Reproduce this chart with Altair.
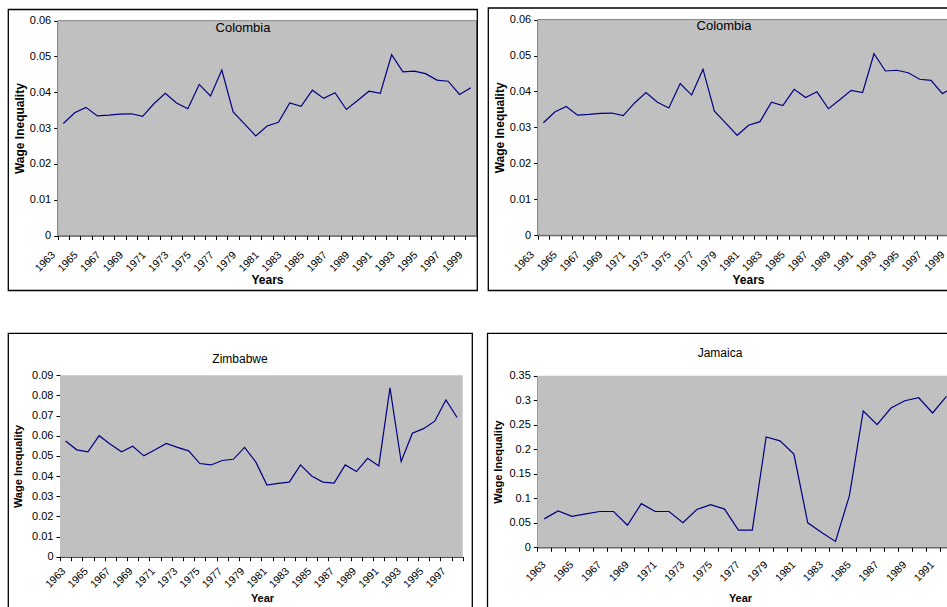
import altair as alt
import pandas as pd

# ---------------- data ----------------
colombia_years = list(range(1963, 2000))
colombia = [0.0313, 0.0343, 0.0358, 0.0334, 0.0336, 0.0339, 0.0340, 0.0333, 0.0368, 0.0397,
            0.0370, 0.0354, 0.0422, 0.0390, 0.0462, 0.0345, 0.0312, 0.0278, 0.0306, 0.0316,
            0.0370, 0.0361, 0.0406, 0.0383, 0.0399, 0.0352, 0.0377, 0.0403, 0.0397, 0.0505,
            0.0457, 0.0459, 0.0452, 0.0434, 0.0431, 0.0394, 0.0413]

zimbabwe_years = list(range(1963, 1999))
zimbabwe = [0.0574, 0.0530, 0.0520, 0.0600, 0.0558, 0.0520, 0.0548, 0.0500, 0.0530, 0.0562,
            0.0542, 0.0525, 0.0462, 0.0455, 0.0477, 0.0483, 0.0542, 0.0470, 0.0355, 0.0364,
            0.0370, 0.0455, 0.0400, 0.0370, 0.0365, 0.0455, 0.0422, 0.0488, 0.0450, 0.0837,
            0.0472, 0.0612, 0.0635, 0.0672, 0.0777, 0.0690]

jamaica_years = list(range(1963, 1993))
jamaica = [0.058, 0.074, 0.063, 0.068, 0.073, 0.073, 0.045, 0.089, 0.073, 0.073,
           0.050, 0.077, 0.087, 0.078, 0.035, 0.035, 0.225, 0.217, 0.190, 0.050,
           0.030, 0.012, 0.105, 0.278, 0.250, 0.284, 0.299, 0.305, 0.274, 0.308]

colombia_ticks = [0, 0.01, 0.02, 0.03, 0.04, 0.05, 0.06]
zimbabwe_ticks = [0, 0.01, 0.02, 0.03, 0.04, 0.05, 0.06, 0.07, 0.08, 0.09]
jamaica_ticks = [0, 0.05, 0.1, 0.15, 0.2, 0.25, 0.3, 0.35]

titles = ["Colombia", "Colombia", "Zimbabwe", "Jamaica"]
y_title = "Wage Inequality"

FONT = "Liberation Sans"
W, H = 947, 607
LINE = "#000080"
PLOT_BG = "#C0C0C0"


def panel(years, values, dom, xr, ymax, yr, yticks, xtitle, xt_pos, yt_x,
          lab_off, lab_pad, fs_title, plot_stroke):
    df = pd.DataFrame({"year": years, "value": values})
    n = int(dom[1] - dom[0])
    bounds = [dom[0] + k for k in range(n + 1)]
    last = years[-1]
    xscale = alt.Scale(domain=list(dom), range=list(xr), nice=False, zero=False)
    yscale = alt.Scale(domain=[0, ymax], range=list(yr), nice=False, zero=True)
    xaxis = alt.Axis(
        orient="bottom", offset=yr[0] - H, values=bounds,
        labelExpr=f"((datum.value + 0.5) % 2 == 1 && datum.value + 0.5 <= {last}) ? format(datum.value + 0.5, 'd') : ''",
        labelAngle=315, labelAlign="right", labelBaseline="top",
        labelOffset=lab_off, labelPadding=lab_pad, labelOverlap=False, labelFlush=False,
        labelFont=FONT, labelFontSize=10.5, labelColor="black",
        tickSize=4, tickColor="black", domainColor="black", grid=False,
        title=xtitle, titleFont=FONT, titleFontSize=fs_title, titleFontWeight="bold",
        titleColor="black", titleX=xt_pos[0], titleY=xt_pos[1] - yr[0],
        titleAlign="center", titleBaseline="middle")
    yaxis = alt.Axis(
        orient="left", offset=-xr[0], values=yticks, format=".2~f",
        labelFont=FONT, labelFontSize=11, labelColor="black", labelPadding=3,
        labelOverlap=False, labelFlush=False,
        tickSize=4, tickColor="black", domainColor="black", grid=False,
        title=y_title, titleFont=FONT, titleFontSize=fs_title, titleFontWeight="bold",
        titleColor="black", titleAngle=270, titleX=yt_x - xr[0],
        titleY=(yr[0] + yr[1]) / 2, titleAlign="center", titleBaseline="middle")
    bg = alt.Chart(pd.DataFrame({"a": [0]})).mark_rect(
        fill=PLOT_BG, stroke=plot_stroke, strokeWidth=1 if plot_stroke != PLOT_BG else 0
    ).encode(
        x=alt.X(datum=dom[0], type="quantitative", scale=xscale, axis=xaxis),
        x2=alt.X2(datum=dom[1]),
        y=alt.Y(datum=0, type="quantitative", scale=yscale, axis=yaxis),
        y2=alt.Y2(datum=ymax),
    )
    line = alt.Chart(df).mark_line(color=LINE, strokeWidth=1.2).encode(
        x=alt.X("year:Q", scale=xscale, axis=xaxis),
        y=alt.Y("value:Q", scale=yscale, axis=yaxis),
    )
    return alt.layer(bg, line)


p_tl = panel(colombia_years, colombia, (1962.5, 1999.5), (57.7, 476.5), 0.06, (235.5, 20.7),
             colombia_ticks, "Years", (267, 279), 19, -8, 10, 12, "#808080")
p_tr = panel(colombia_years, colombia, (1962.5, 1999.5), (537.7, 959.5), 0.06, (235.2, 19.6),
             colombia_ticks, "Years", (748, 279), 499, -9, 10, 12, "#808080")
p_bl = panel(zimbabwe_years, zimbabwe, (1962.5, 1998.5), (60.0, 462.7), 0.09, (556.7, 375.2),
             zimbabwe_ticks, "Year", (262, 598), 18, 0, 5, 11, PLOT_BG)
p_br = panel(jamaica_years, jamaica, (1962.5, 1992.5), (537.3, 953.4), 0.35, (547.3, 375.7),
             jamaica_ticks, "Year", (740, 598), 498, 3, 8, 11, PLOT_BG)


def frame(x, x2, y, y2):
    return alt.Chart(pd.DataFrame({"a": [0]})).mark_rect(
        fillOpacity=0, stroke="black", strokeWidth=1.3
    ).encode(x=alt.value(x), x2=alt.value(x2), y=alt.value(y), y2=alt.value(y2))


def title_text(label, x, y, size):
    return alt.Chart(pd.DataFrame({"t": [label]})).mark_text(
        font=FONT, fontSize=size, color="black", align="center", baseline="middle"
    ).encode(text="t:N", x=alt.value(x), y=alt.value(y))


frames = [
    frame(8.3, 477.3, 9.5, 290.5),
    frame(488.3, 975, 8.0, 290.5),
    frame(8.3, 472.3, 333.3, 640),
    frame(487.5, 975, 333.3, 640),
]
texts = [
    title_text(titles[0], 243, 28, 13),
    title_text(titles[1], 724, 26, 13),
    title_text(titles[2], 240, 359, 12),
    title_text(titles[3], 720, 353, 12),
]

chart = alt.layer(p_tl, p_tr, p_bl, p_br, *frames, *texts).resolve_scale(
    x="independent", y="independent"
).resolve_axis(
    x="independent", y="independent"
).properties(
    width=W, height=H, padding=0, background="white",
    autosize=alt.AutoSizeParams(type="none"),
).configure_view(strokeWidth=0)

chart.save("out.html", embed_options={"renderer": "svg", "actions": False})
